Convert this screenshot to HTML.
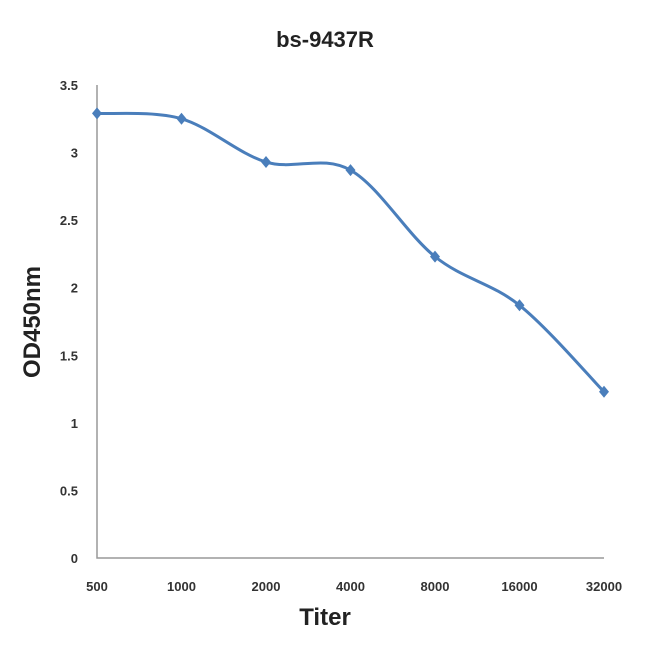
<!DOCTYPE html>
<html><head><meta charset="utf-8"><style>
body{margin:0;background:#fff;}
svg{display:block;font-family:"Liberation Sans",sans-serif;}
</style></head><body>
<svg id="chart" width="650" height="653" viewBox="0 0 650 653">
<rect width="650" height="653" fill="#fff"/>
<text x="325" y="47" text-anchor="middle" font-size="22" font-weight="bold" fill="#222">bs-9437R</text>
<text x="325" y="625" text-anchor="middle" font-size="24" font-weight="bold" fill="#222">Titer</text>
<text transform="translate(40,322) rotate(-90)" text-anchor="middle" font-size="24" font-weight="bold" fill="#222">OD450nm</text>
<g id="axes"></g>
<g id="marks"></g>
</svg>
<script>
const categories=["500","1000","2000","4000","8000","16000","32000"];
const values=[3.29,3.25,2.93,2.87,2.23,1.87,1.23];
const yTicks=[0,0.5,1,1.5,2,2.5,3,3.5];
const yTickLabels=["0","0.5","1","1.5","2","2.5","3","3.5"];
const NS="http://www.w3.org/2000/svg";
const x0=97,x1=604,yB=558,yT=85,yMax=3.5;
const xs=i=>x0+i*(x1-x0)/(categories.length-1);
const ys=v=>yB-v/yMax*(yB-yT);
const axes=document.getElementById('axes'),marks=document.getElementById('marks');
function mk(t,a,p){const e=document.createElementNS(NS,t);for(const k in a)e.setAttribute(k,a[k]);p.appendChild(e);return e;}
const ax=mk('path',{d:`M${x0},${yT} V${yB} H${x1}`,fill:'none',stroke:'#999','stroke-width':1.5},axes);


yTicks.forEach((v,i)=>{const t=mk('text',{x:78,y:ys(v)+5,'text-anchor':'end','font-size':13,'font-weight':'bold',fill:'#333'},axes);t.textContent=yTickLabels[i];

});
categories.forEach((c,i)=>{const t=mk('text',{x:xs(i),y:591,'text-anchor':'middle','font-size':13,'font-weight':'bold',fill:'#333'},axes);t.textContent=c;

});
const pts=values.map((v,i)=>[xs(i),ys(v)]);
let d=`M${pts[0][0]},${pts[0][1]}`;const k=0.5/3;
for(let i=0;i<pts.length-1;i++){const p0=pts[Math.max(0,i-1)],p1=pts[i],p2=pts[i+1],p3=pts[Math.min(pts.length-1,i+2)];
d+=` C${p1[0]+(p2[0]-p0[0])*k},${p1[1]+(p2[1]-p0[1])*k} ${p2[0]-(p3[0]-p1[0])*k},${p2[1]-(p3[1]-p1[1])*k} ${p2[0]},${p2[1]}`;}
const ln=mk('path',{d,fill:'none',stroke:'#4a7ebb','stroke-width':3},marks);


pts.forEach(p=>{const m=mk('path',{d:`M${p[0]},${p[1]-6} L${p[0]+5},${p[1]} L${p[0]},${p[1]+6} L${p[0]-5},${p[1]} Z`,fill:'#4a7ebb'},marks);

});
</script>
</body></html>
